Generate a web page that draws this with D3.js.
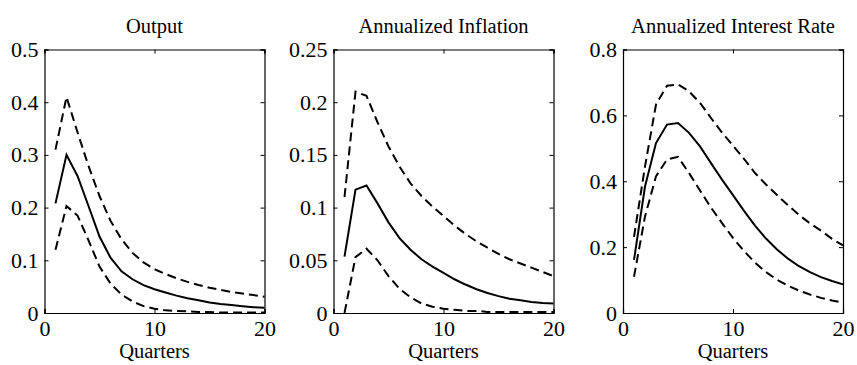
<!DOCTYPE html>
<html>
<head>
<meta charset="utf-8">
<script src="https://cdn.jsdelivr.net/npm/d3@7"></script>
<style>
  body { margin: 0; background: #fff; }
  text { font-family: "Liberation Serif", "Times New Roman", serif; fill: #000; }
</style>
</head>
<body>
<div id="svg"></div>
<script>
// quarters 1..20
var quarters = d3.range(1, 21);

var titles = ["Output", "Annualized Inflation", "Annualized Interest Rate"];
var yMax = [0.5, 0.25, 0.8];
var yTicks = [
    [0, 0.1, 0.2, 0.3, 0.4, 0.5],
    [0, 0.05, 0.1, 0.15, 0.2, 0.25],
    [0, 0.2, 0.4, 0.6, 0.8]
];
var xTicks = [0, 10, 20];

var outputMid = [0.208, 0.300, 0.260, 0.203, 0.145, 0.105, 0.079, 0.064, 0.053, 0.045,
                 0.039, 0.033, 0.028, 0.024, 0.020, 0.017, 0.015, 0.013, 0.011, 0.010];
var outputHi  = [0.310, 0.410, 0.343, 0.279, 0.222, 0.175, 0.140, 0.114, 0.096, 0.083,
                 0.074, 0.066, 0.059, 0.053, 0.048, 0.044, 0.040, 0.037, 0.034, 0.031];
var outputLo  = [0.120, 0.203, 0.185, 0.138, 0.088, 0.056, 0.035, 0.022, 0.013, 0.008,
                 0.005, 0.004, 0.003, 0.002, 0.002, 0.001, 0.001, 0.001, 0.001, 0.001];

var inflMid = [0.0535, 0.117, 0.121, 0.104, 0.086, 0.071, 0.060, 0.051, 0.044, 0.038,
               0.032, 0.027, 0.0225, 0.019, 0.016, 0.0135, 0.012, 0.0105, 0.0095, 0.009];
var inflHi  = [0.110, 0.210, 0.206, 0.181, 0.158, 0.139, 0.123, 0.111, 0.101, 0.092,
               0.083, 0.075, 0.068, 0.062, 0.056, 0.051, 0.047, 0.043, 0.039, 0.035];
var inflLo  = [0.000, 0.053, 0.061, 0.050, 0.035, 0.023, 0.015, 0.009, 0.006, 0.004,
               0.003, 0.002, 0.002, 0.001, 0.001, 0.001, 0.001, 0.001, 0.001, 0.001];

var rateMid = [0.161, 0.384, 0.516, 0.572, 0.577, 0.547, 0.506, 0.455, 0.405, 0.358,
               0.310, 0.265, 0.226, 0.193, 0.165, 0.142, 0.124, 0.109, 0.097, 0.087];
var rateHi  = [0.231, 0.445, 0.633, 0.690, 0.694, 0.673, 0.638, 0.592, 0.548, 0.508,
               0.468, 0.425, 0.390, 0.358, 0.327, 0.298, 0.272, 0.250, 0.225, 0.205];
var rateLo  = [0.110, 0.293, 0.415, 0.466, 0.474, 0.425, 0.372, 0.320, 0.273, 0.228,
               0.188, 0.153, 0.124, 0.101, 0.083, 0.068, 0.056, 0.046, 0.038, 0.031];

var series = [
    [outputMid, outputHi, outputLo],
    [inflMid, inflHi, inflLo],
    [rateMid, rateHi, rateLo]
];

var width = 857, height = 365;
var panelLeft = [44.5, 333.5, 623],
    panelW = 220,
    plotTop = 49.5,
    plotBottom = 313;

var svg = d3.select("#svg").append("svg")
    .attr("width", width)
    .attr("height", height);

titles.forEach(function(title, i) {
    let x = d3.scaleLinear().domain([0, 20]).range([panelLeft[i], panelLeft[i] + panelW]);
    let y = d3.scaleLinear().domain([0, yMax[i]]).range([plotBottom, plotTop]);

    let g = svg.append("g");

    // ticks on all four sides, pointing inward
    g.append("g").attr("transform", "translate(0," + plotBottom + ")")
        .call(d3.axisBottom(x).tickValues(xTicks).tickSize(-4).tickFormat(d3.format("d")).tickPadding(7))
        .call(styleAxis);
    g.append("g").attr("transform", "translate(0," + plotTop + ")")
        .call(d3.axisTop(x).tickValues(xTicks).tickSize(-4).tickFormat(""))
        .call(styleAxis);
    g.append("g").attr("transform", "translate(" + x(0) + ",0)")
        .call(d3.axisLeft(y).tickValues(yTicks[i]).tickSize(-4).tickFormat(d3.format("~g")).tickPadding(6))
        .call(styleAxis);
    g.append("g").attr("transform", "translate(" + x(20) + ",0)")
        .call(d3.axisRight(y).tickValues(yTicks[i]).tickSize(-4).tickFormat(""))
        .call(styleAxis);

    let line = d3.line()
        .x((d, k) => x(quarters[k]))
        .y(d => y(d));

    series[i].forEach(function(vals, j) {
        g.append("path")
            .datum(vals)
            .attr("d", line)
            .attr("fill", "none")
            .attr("stroke", "#000")
            .attr("stroke-width", 2)
            .attr("stroke-dasharray", j === 0 ? null : "9,5");
    });

    g.append("text")
        .attr("x", x(10))
        .attr("y", 33)
        .attr("text-anchor", "middle")
        .style("font-size", "20.5px")
        .text(title);

    g.append("text")
        .attr("x", x(10))
        .attr("y", 358)
        .attr("text-anchor", "middle")
        .style("font-size", "20.5px")
        .text("Quarters");
});

function styleAxis(sel) {
    sel.select(".domain").attr("stroke", "#000").attr("stroke-width", 1.2);
    sel.selectAll(".tick line").attr("stroke", "#000").attr("stroke-width", 1);
    sel.selectAll(".tick text")
        .style("font-family", "'Liberation Serif', 'Times New Roman', serif")
        .style("font-size", "22px")
        .attr("fill", "#000");
}
</script>
</body>
</html>
